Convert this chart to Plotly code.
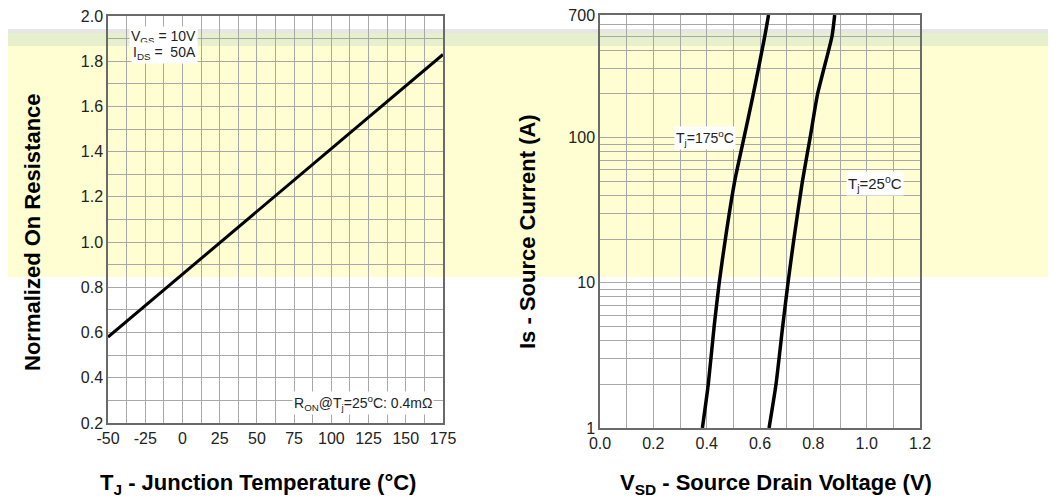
import math
import plotly.graph_objects as go

# ---- data ----
temp_c = [-50, -25, 0, 25, 50, 75, 100, 125, 150, 175]
r_norm = [0.580, 0.719, 0.858, 0.997, 1.136, 1.274, 1.413, 1.552, 1.691, 1.830]

is_a = [1, 2, 5, 10, 20, 50, 100, 200, 500, 700]
vsd_175 = [0.384, 0.406, 0.428, 0.447, 0.470, 0.505, 0.540, 0.575, 0.618, 0.632]
vsd_25 = [0.634, 0.660, 0.685, 0.705, 0.727, 0.759, 0.788, 0.816, 0.870, 0.880]

left_y_ticks = [0.2, 0.4, 0.6, 0.8, 1.0, 1.2, 1.4, 1.6, 1.8, 2.0]
left_x_ticks = [-50, -25, 0, 25, 50, 75, 100, 125, 150, 175]
left_x_labels = ["-50", "-25", "0", "25", "50", "75", "100", "125", "150", "175"]
right_x_ticks = [0.0, 0.2, 0.4, 0.6, 0.8, 1.0, 1.2]
right_y_ticks = [1, 10, 100, 700]
right_y_labels = ["1", "10", "100", "700"]

W, H = 1056, 497
OFF = 8  # page body margin
FONT = "Liberation Sans, Arial, sans-serif"
GRID = "#a8a8a8"
BORDER = "#6a6a6a"


def px_x(p):
    return (p - OFF) / W


def px_y(p):
    return 1 - (p - OFF) / H


fig = go.Figure()

fig.add_trace(go.Scatter(x=temp_c, y=r_norm, mode="lines",
                         line=dict(color="black", width=3),
                         xaxis="x", yaxis="y", showlegend=False))
fig.add_trace(go.Scatter(x=vsd_175, y=is_a, mode="lines", line_shape="spline",
                         line=dict(color="black", width=3.5, smoothing=0.6),
                         xaxis="x2", yaxis="y2", showlegend=False))
fig.add_trace(go.Scatter(x=vsd_25, y=is_a, mode="lines", line_shape="spline",
                         line=dict(color="black", width=3.5, smoothing=0.6),
                         xaxis="x2", yaxis="y2", showlegend=False))

axis_common = dict(showline=True, mirror=True, linecolor=BORDER, linewidth=1.5,
                   gridcolor=GRID, gridwidth=1, zeroline=False, ticks="",
                   automargin=False, ticklabeloverflow="allow",
                   tickfont=dict(family=FONT, size=16, color="#222"))

fig.update_layout(
    width=W, height=H,
    margin=dict(l=0, r=0, t=0, b=0),
    paper_bgcolor="white",
    plot_bgcolor="rgba(0,0,0,0)",
    font=dict(family=FONT, color="#222"),
    xaxis=dict(domain=[px_x(108), px_x(443)], range=[-50, 175],
               tickvals=left_x_ticks, ticktext=left_x_labels, anchor="y",
               minor=dict(dtick=12.5, tick0=-50, showgrid=True, gridcolor=GRID),
               **axis_common),
    yaxis=dict(domain=[px_y(423), px_y(16)], range=[0.2, 2.0],
               tickvals=left_y_ticks, tickformat=".1f", anchor="x",
               minor=dict(dtick=0.1, tick0=0.2, showgrid=True, gridcolor=GRID),
               **axis_common),
    xaxis2=dict(domain=[px_x(600), px_x(920)], range=[0, 1.2],
                tickvals=right_x_ticks, tickformat=".1f", anchor="y2",
                minor=dict(dtick=0.1, tick0=0, showgrid=True, gridcolor=GRID),
                **axis_common),
    yaxis2=dict(domain=[px_y(428), px_y(15)], type="log",
                range=[0, math.log10(700)],
                tickvals=right_y_ticks, ticktext=right_y_labels,
                minor=dict(dtick="D1", showgrid=True, gridcolor=GRID),
                anchor="x2", **axis_common),
)

# highlighted band (scan overlay)
fig.add_shape(type="rect", xref="paper", yref="paper",
              x0=px_x(5), x1=1.02, y0=px_y(277), y1=px_y(46),
              fillcolor="#fefed2", line=dict(width=0), layer="below")
fig.add_shape(type="rect", xref="paper", yref="paper",
              x0=px_x(5), x1=1.02, y0=px_y(46), y1=px_y(33),
              fillcolor="#e8efcc", line=dict(width=0), layer="below")
fig.add_shape(type="rect", xref="paper", yref="paper",
              x0=px_x(5), x1=1.02, y0=px_y(33), y1=px_y(29),
              fillcolor="#e6e6e6", line=dict(width=0), layer="below")

# axis titles
title_font = dict(family=FONT, size=22, color="black")
fig.add_annotation(text="<b>Normalized On Resistance</b>", xref="paper", yref="paper",
                   x=px_x(32), y=px_y(232), textangle=-90, showarrow=False,
                   font=title_font, xanchor="center", yanchor="middle")
fig.add_annotation(text="<b>Is - Source Current (A)</b>", xref="paper", yref="paper",
                   x=px_x(527), y=px_y(232), textangle=-90, showarrow=False,
                   font=title_font, xanchor="center", yanchor="middle")
fig.add_annotation(text="<b>T<sub>J</sub> - Junction Temperature (°C)</b>", xref="paper",
                   yref="paper", x=px_x(258), y=px_y(484), showarrow=False,
                   font=title_font, xanchor="center", yanchor="middle")
fig.add_annotation(text="<b>V<sub>SD</sub> - Source Drain Voltage (V)</b>", xref="paper",
                   yref="paper", x=px_x(776), y=px_y(484), showarrow=False,
                   font=title_font, xanchor="center", yanchor="middle")

# in-plot labels
lab_font = dict(family=FONT, size=14, color="#222")
fig.add_annotation(text="V<sub>GS</sub> = 10V", xref="x", yref="y", x=10.5, y=1.905,
                   showarrow=False, xanchor="right", yanchor="middle",
                   font=lab_font, bgcolor="white")
fig.add_annotation(text="I<sub>DS</sub> =  50A", xref="x", yref="y", x=10.5, y=1.835,
                   showarrow=False, xanchor="right", yanchor="middle",
                   font=lab_font, bgcolor="white")
fig.add_annotation(text="R<sub>ON</sub>@T<sub>j</sub>=25<sup>o</sup>C: 0.4mΩ",
                   xref="x", yref="y", x=121, y=0.29,
                   showarrow=False, xanchor="center", yanchor="middle",
                   font=lab_font, bgcolor="white")
# log axis annotations take log10 positions
fig.add_annotation(text="T<sub>j</sub>=175<sup>o</sup>C", xref="x2", yref="y2",
                   x=0.395, y=math.log10(100), showarrow=False,
                   xanchor="center", yanchor="middle", font=lab_font, bgcolor="white")
fig.add_annotation(text="T<sub>j</sub>=25<sup>o</sup>C", xref="x2", yref="y2",
                   x=1.03, y=math.log10(48), showarrow=False,
                   xanchor="center", yanchor="middle",
                   font=dict(family=FONT, size=15, color="#222"), bgcolor="white")

fig.write_html("out.html")
